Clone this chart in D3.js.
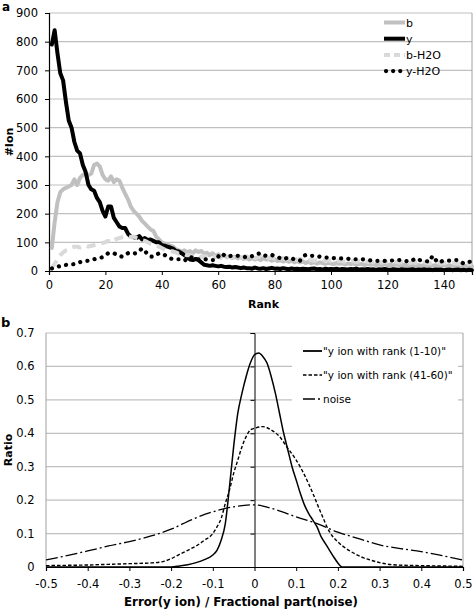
<!DOCTYPE html>
<html><head><meta charset="utf-8">
<script src="https://cdn.jsdelivr.net/npm/d3@7"></script>
<style>body{margin:0;background:#fff}svg{display:block}text{font-family:"DejaVu Sans",Verdana,sans-serif}</style>
</head><body><svg id="c" width="475" height="610"></svg>
<script>
// ---------- Panel a data ----------
const ranks = d3.range(1, 151);
const seriesNamesA = ["b", "y", "b-H2O", "y-H2O"];
const bVals = [80,170,240,275,285,290,295,300,320,300,325,335,340,335,340,370,375,365,335,320,
315,330,310,320,315,290,270,250,225,210,200,190,175,165,155,145,140,120,110,100,
95,92,88,85,75,72,68,72,65,70,62,72,66,70,60,64,55,62,52,58,
50,55,48,52,45,50,44,48,42,46,40,45,40,44,38,45,40,42,36,40,
35,38,33,37,32,36,30,34,30,33,28,32,27,31,26,30,28,25,29,26,
24,28,25,27,23,26,24,27,22,25,24,21,25,22,24,20,23,21,24,20,
22,19,23,21,20,22,19,21,18,22,20,18,21,19,22,18,20,17,21,19,
18,20,17,19,18,16,19,17,18,16];
const yVals = [790,840,760,690,665,590,525,500,450,420,410,370,345,300,285,280,255,240,210,190,
225,225,185,170,155,150,150,130,120,118,115,122,110,115,108,110,105,100,100,90,
88,85,82,78,70,68,62,55,48,40,38,42,38,30,22,20,18,20,18,16,
18,15,14,15,12,14,12,10,12,10,10,8,12,9,8,10,7,9,11,8,
9,7,10,8,6,9,7,8,6,8,7,6,8,9,6,7,5,8,6,7,
6,8,5,7,6,5,7,6,8,5,6,5,7,5,6,4,6,5,7,5,
4,6,5,4,6,5,4,5,6,4,5,4,6,4,5,3,5,4,5,3,
4,5,3,4,5,3,4,3,4,3];
const bH2OVals = [10,25,40,55,65,72,75,80,85,85,82,85,88,85,88,90,92,95,98,100,
105,100,108,112,115,118,120,122,118,120,115,112,108,105,100,95,92,90,85,80,
75,72,70,68,65,60,62,58,55,55,52,50,55,48,52,50,46,52,48,50,
45,50,46,52,48,44,50,45,48,52,46,50,44,48,52,46,50,44,47,42,
46,42,45,40,44,40,43,38,42,38,40,36,39,35,38,36,40,34,37,35,
36,33,37,34,32,36,33,35,31,34,32,35,31,33,30,34,31,29,33,30,
31,28,32,29,31,28,30,27,31,28,29,27,30,28,26,29,27,30,26,28,
27,25,28,26,27,24,27,25,26,24];
const yH2OVals = [9,12,15,17,19,21,22,23,24,28,31,33,35,36,38,41,43,46,48,55,
62,62,62,57,52,50,57,62,60,61,62,70,79,70,58,50,50,56,62,59,
56,50,44,41,41,41,38,36,43,50,45,41,41,41,41,40,38,38,38,50,
62,56,50,52,53,53,53,51,50,48,47,52,56,60,62,55,53,54,56,52,
48,45,41,44,47,44,41,38,36,50,56,53,53,53,52,50,48,47,47,47,
45,44,44,44,44,43,41,41,41,41,41,40,38,37,36,35,35,35,35,35,
36,37,38,38,38,36,34,33,38,44,40,36,35,34,33,53,40,29,33,36,
36,36,37,38,38,32,26,29,32,33];
const yTicksA = [0,100,200,300,400,500,600,700,800,900];
const xTicksA = [0,20,40,60,80,100,120,140];

// ---------- Panel b data ----------
const seriesNamesB = ["\"y ion with rank (1-10)\"", "\"y ion with rank (41-60)\"", "noise"];
const xSolid = [-0.5,-0.4,-0.3,-0.2,-0.18,-0.16,-0.14,-0.12,-0.10,-0.09,-0.08,-0.07,-0.06,-0.05,-0.04,-0.03,-0.02,-0.01,0,0.01,0.02,0.03,0.04,0.05,0.06,0.07,0.08,0.09,0.10,0.11,0.12,0.13,0.14,0.15,0.16,0.17,0.18,0.19,0.20,0.21,0.3,0.4,0.5];
const ySolid = [0,0,0,0,0.003,0.007,0.013,0.022,0.036,0.05,0.08,0.13,0.24,0.36,0.46,0.52,0.57,0.61,0.635,0.64,0.63,0.61,0.57,0.52,0.46,0.40,0.35,0.30,0.26,0.22,0.185,0.16,0.14,0.12,0.09,0.07,0.05,0.03,0.012,0,0,0,0];
const xDash = [-0.5,-0.45,-0.4,-0.35,-0.3,-0.25,-0.22,-0.2,-0.18,-0.16,-0.14,-0.12,-0.10,-0.09,-0.08,-0.07,-0.06,-0.05,-0.04,-0.03,-0.02,-0.01,0,0.02,0.04,0.06,0.08,0.10,0.12,0.14,0.16,0.18,0.20,0.22,0.24,0.26,0.28,0.30,0.34,0.4,0.45,0.5];
const yDash = [0.004,0.005,0.006,0.008,0.01,0.012,0.016,0.025,0.038,0.05,0.063,0.08,0.10,0.12,0.145,0.19,0.23,0.28,0.32,0.36,0.39,0.41,0.415,0.42,0.41,0.39,0.355,0.32,0.275,0.22,0.16,0.105,0.075,0.055,0.04,0.028,0.02,0.013,0.006,0.004,0.003,0.002];
const xNoise = [-0.5,-0.45,-0.4,-0.35,-0.3,-0.25,-0.2,-0.15,-0.1,-0.05,0,0.05,0.1,0.15,0.2,0.25,0.3,0.35,0.4,0.45,0.5];
const yNoise = [0.021,0.034,0.048,0.063,0.076,0.092,0.113,0.142,0.165,0.18,0.186,0.172,0.15,0.13,0.104,0.085,0.066,0.055,0.046,0.034,0.021];
const yTicksB = [0,0.1,0.2,0.3,0.4,0.5,0.6,0.7];
const xTicksB = [-0.5,-0.4,-0.3,-0.2,-0.1,0,0.1,0.2,0.3,0.4,0.5];

const svg = d3.select("#c");
const GRID = "#c0c0c0";

// ================= Panel a =================
const A = {l:49, r:472, t:13, b:271};
const xa = d3.scaleLinear().domain([0,150]).range([A.l, A.r]);
const ya = d3.scaleLinear().domain([0,900]).range([A.b, A.t]);
const ga = svg.append("g");
ga.selectAll("line.g").data(yTicksA.slice(1)).join("line")
  .attr("x1", A.l).attr("x2", A.r).attr("y1", d=>ya(d)).attr("y2", d=>ya(d))
  .attr("stroke", GRID).attr("stroke-width", 1.2);
ga.append("line").attr("x1", A.r).attr("x2", A.r).attr("y1", A.t).attr("y2", A.b).attr("stroke", "#a0a0a0");
const axLA = ga.append("g").attr("transform", `translate(${A.l},0)`)
  .call(d3.axisLeft(ya).tickValues(yTicksA).tickSize(4).tickPadding(7).tickFormat(d3.format("d")));
const axBA = ga.append("g").attr("transform", `translate(0,${A.b})`)
  .call(d3.axisBottom(xa).tickValues(xTicksA).tickSize(4).tickPadding(6).tickFormat(d3.format("d")));
[axLA, axBA].forEach(a => {
  a.select(".domain").attr("stroke", "#000").attr("stroke-width", 1.2);
  a.selectAll(".tick line").attr("stroke", "#000");
  a.selectAll("text").attr("font-size", 11.5).attr("fill", "#000").attr("font-family", "DejaVu Sans");
});
const lineA = vals => d3.line().x((d,i)=>xa(ranks[i])).y(d=>ya(d))(vals);
const seriesA = [
  {vals:bVals, stroke:"#c0c0c0", w:4, dash:null, cap:"round"},
  {vals:yVals, stroke:"#000", w:4, dash:null, cap:"round"},
  {vals:bH2OVals, stroke:"#d9d9d9", w:4, dash:"9,6", cap:"butt"},
  {vals:yH2OVals, stroke:"#000", w:4.2, dash:"0.1,7.2", cap:"round"}
];
seriesA.forEach(s => {
  ga.append("path").attr("d", lineA(s.vals)).attr("fill","none").attr("stroke", s.stroke)
    .attr("stroke-width", s.w).attr("stroke-linejoin","round").attr("stroke-linecap", s.cap)
    .attr("stroke-dasharray", s.dash);
});
seriesNamesA.forEach((n,i) => {
  const yy = 22.5 + i*16.2;
  const s = seriesA[i];
  ga.append("line").attr("x1", i===3 ? 386 : 384).attr("x2", i===3 ? 401 : 405).attr("y1", yy).attr("y2", yy)
    .attr("stroke", s.stroke).attr("stroke-width", s.w).attr("stroke-linecap", i===3 ? "round" : "butt")
    .attr("stroke-dasharray", i===2 ? "6,4" : (i===3 ? "0.1,7" : null));
  ga.append("text").attr("x", 406).attr("y", yy+4).attr("font-size", 11).text(n);
});
svg.append("text").attr("x", 2).attr("y", 11).attr("font-size", 12).attr("font-weight","bold").text("a");
svg.append("text").attr("transform", `translate(13,${(A.t+A.b)/2}) rotate(-90)`).attr("text-anchor","middle")
  .attr("font-size", 11).attr("font-weight","bold").text("#Ion");
svg.append("text").attr("x", (A.l+A.r)/2+3).attr("y", 308).attr("text-anchor","middle")
  .attr("font-size", 11).attr("font-weight","bold").text("Rank");

// ================= Panel b =================
const B = {l:46, r:463, t:333, b:567};
const xb = d3.scaleLinear().domain([-0.5,0.5]).range([B.l, B.r]);
const yb = d3.scaleLinear().domain([0,0.7]).range([B.b, B.t]);
const gb = svg.append("g");
gb.selectAll("line.g").data(yTicksB.slice(1)).join("line")
  .attr("x1", B.l).attr("x2", B.r).attr("y1", d=>yb(d)).attr("y2", d=>yb(d))
  .attr("stroke", GRID).attr("stroke-width", 1.2);
gb.append("line").attr("x1", B.l).attr("x2", B.l).attr("y1", B.t).attr("y2", B.b).attr("stroke", "#a0a0a0");
gb.append("line").attr("x1", B.r).attr("x2", B.r).attr("y1", B.t).attr("y2", B.b).attr("stroke", "#a0a0a0");
const fmtB = d => d===0 ? "0" : d3.format(".1f")(d).replace("−","-");
const axLB = gb.append("g").attr("transform", `translate(${xb(0)},0)`)
  .call(d3.axisLeft(yb).tickValues(yTicksB).tickSize(4).tickFormat(""));
axLB.select(".domain").attr("stroke","#000");
axLB.selectAll(".tick line").attr("stroke","#000");
gb.selectAll("text.yl").data(yTicksB).join("text").attr("class","yl")
  .attr("x", 34.5).attr("y", d=>yb(d)+4).attr("text-anchor","end").attr("font-size", 11.5).text(fmtB);
const axBB = gb.append("g").attr("transform", `translate(0,${B.b})`)
  .call(d3.axisBottom(xb).tickValues(xTicksB).tickSize(4).tickPadding(9).tickFormat(fmtB));
axBB.select(".domain").attr("stroke","#000").attr("stroke-width",1.2);
axBB.selectAll(".tick line").attr("stroke","#000");
axBB.selectAll("text").attr("font-size", 11.5).attr("fill","#000").attr("font-family","DejaVu Sans");

const lineB = (xs, ys) => d3.line().curve(d3.curveMonotoneX).x((d,i)=>xb(xs[i])).y(d=>yb(d))(ys);
const seriesB = [
  {xs:xSolid, ys:ySolid, dash:null, w:1.5},
  {xs:xDash, ys:yDash, dash:"3.5,2", w:1.4},
  {xs:xNoise, ys:yNoise, dash:"12,3,2,3", w:1.3}
];
gb.append("rect").attr("x", 292).attr("y", 338).attr("width", 166).attr("height", 76).attr("fill","#fff");
seriesB.forEach(s => {
  gb.append("path").attr("d", lineB(s.xs, s.ys)).attr("fill","none").attr("stroke","#000")
    .attr("stroke-width", s.w).attr("stroke-dasharray", s.dash);
});
seriesNamesB.forEach((n,i) => {
  const yy = 351 + i*24;
  const s = seriesB[i];
  gb.append("line").attr("x1", 303).attr("x2", 322).attr("y1", yy).attr("y2", yy)
    .attr("stroke","#000").attr("stroke-width", s.w+0.3).attr("stroke-dasharray", i===2 ? "12,3,2,3" : s.dash);
  gb.append("text").attr("x", 323).attr("y", yy+4).attr("font-size", 10.5).text(n);
});
svg.append("text").attr("x", 1).attr("y", 327).attr("font-size", 13).attr("font-weight","bold").text("b");
svg.append("text").attr("transform", `translate(12,${(B.t+B.b)/2}) rotate(-90)`).attr("text-anchor","middle")
  .attr("font-size", 11).attr("font-weight","bold").text("Ratio");
svg.append("text").attr("x", 241).attr("y", 606).attr("text-anchor","middle")
  .attr("font-size", 11.8).attr("font-weight","bold").text("Error(y ion) / Fractional part(noise)");
</script></body></html>
